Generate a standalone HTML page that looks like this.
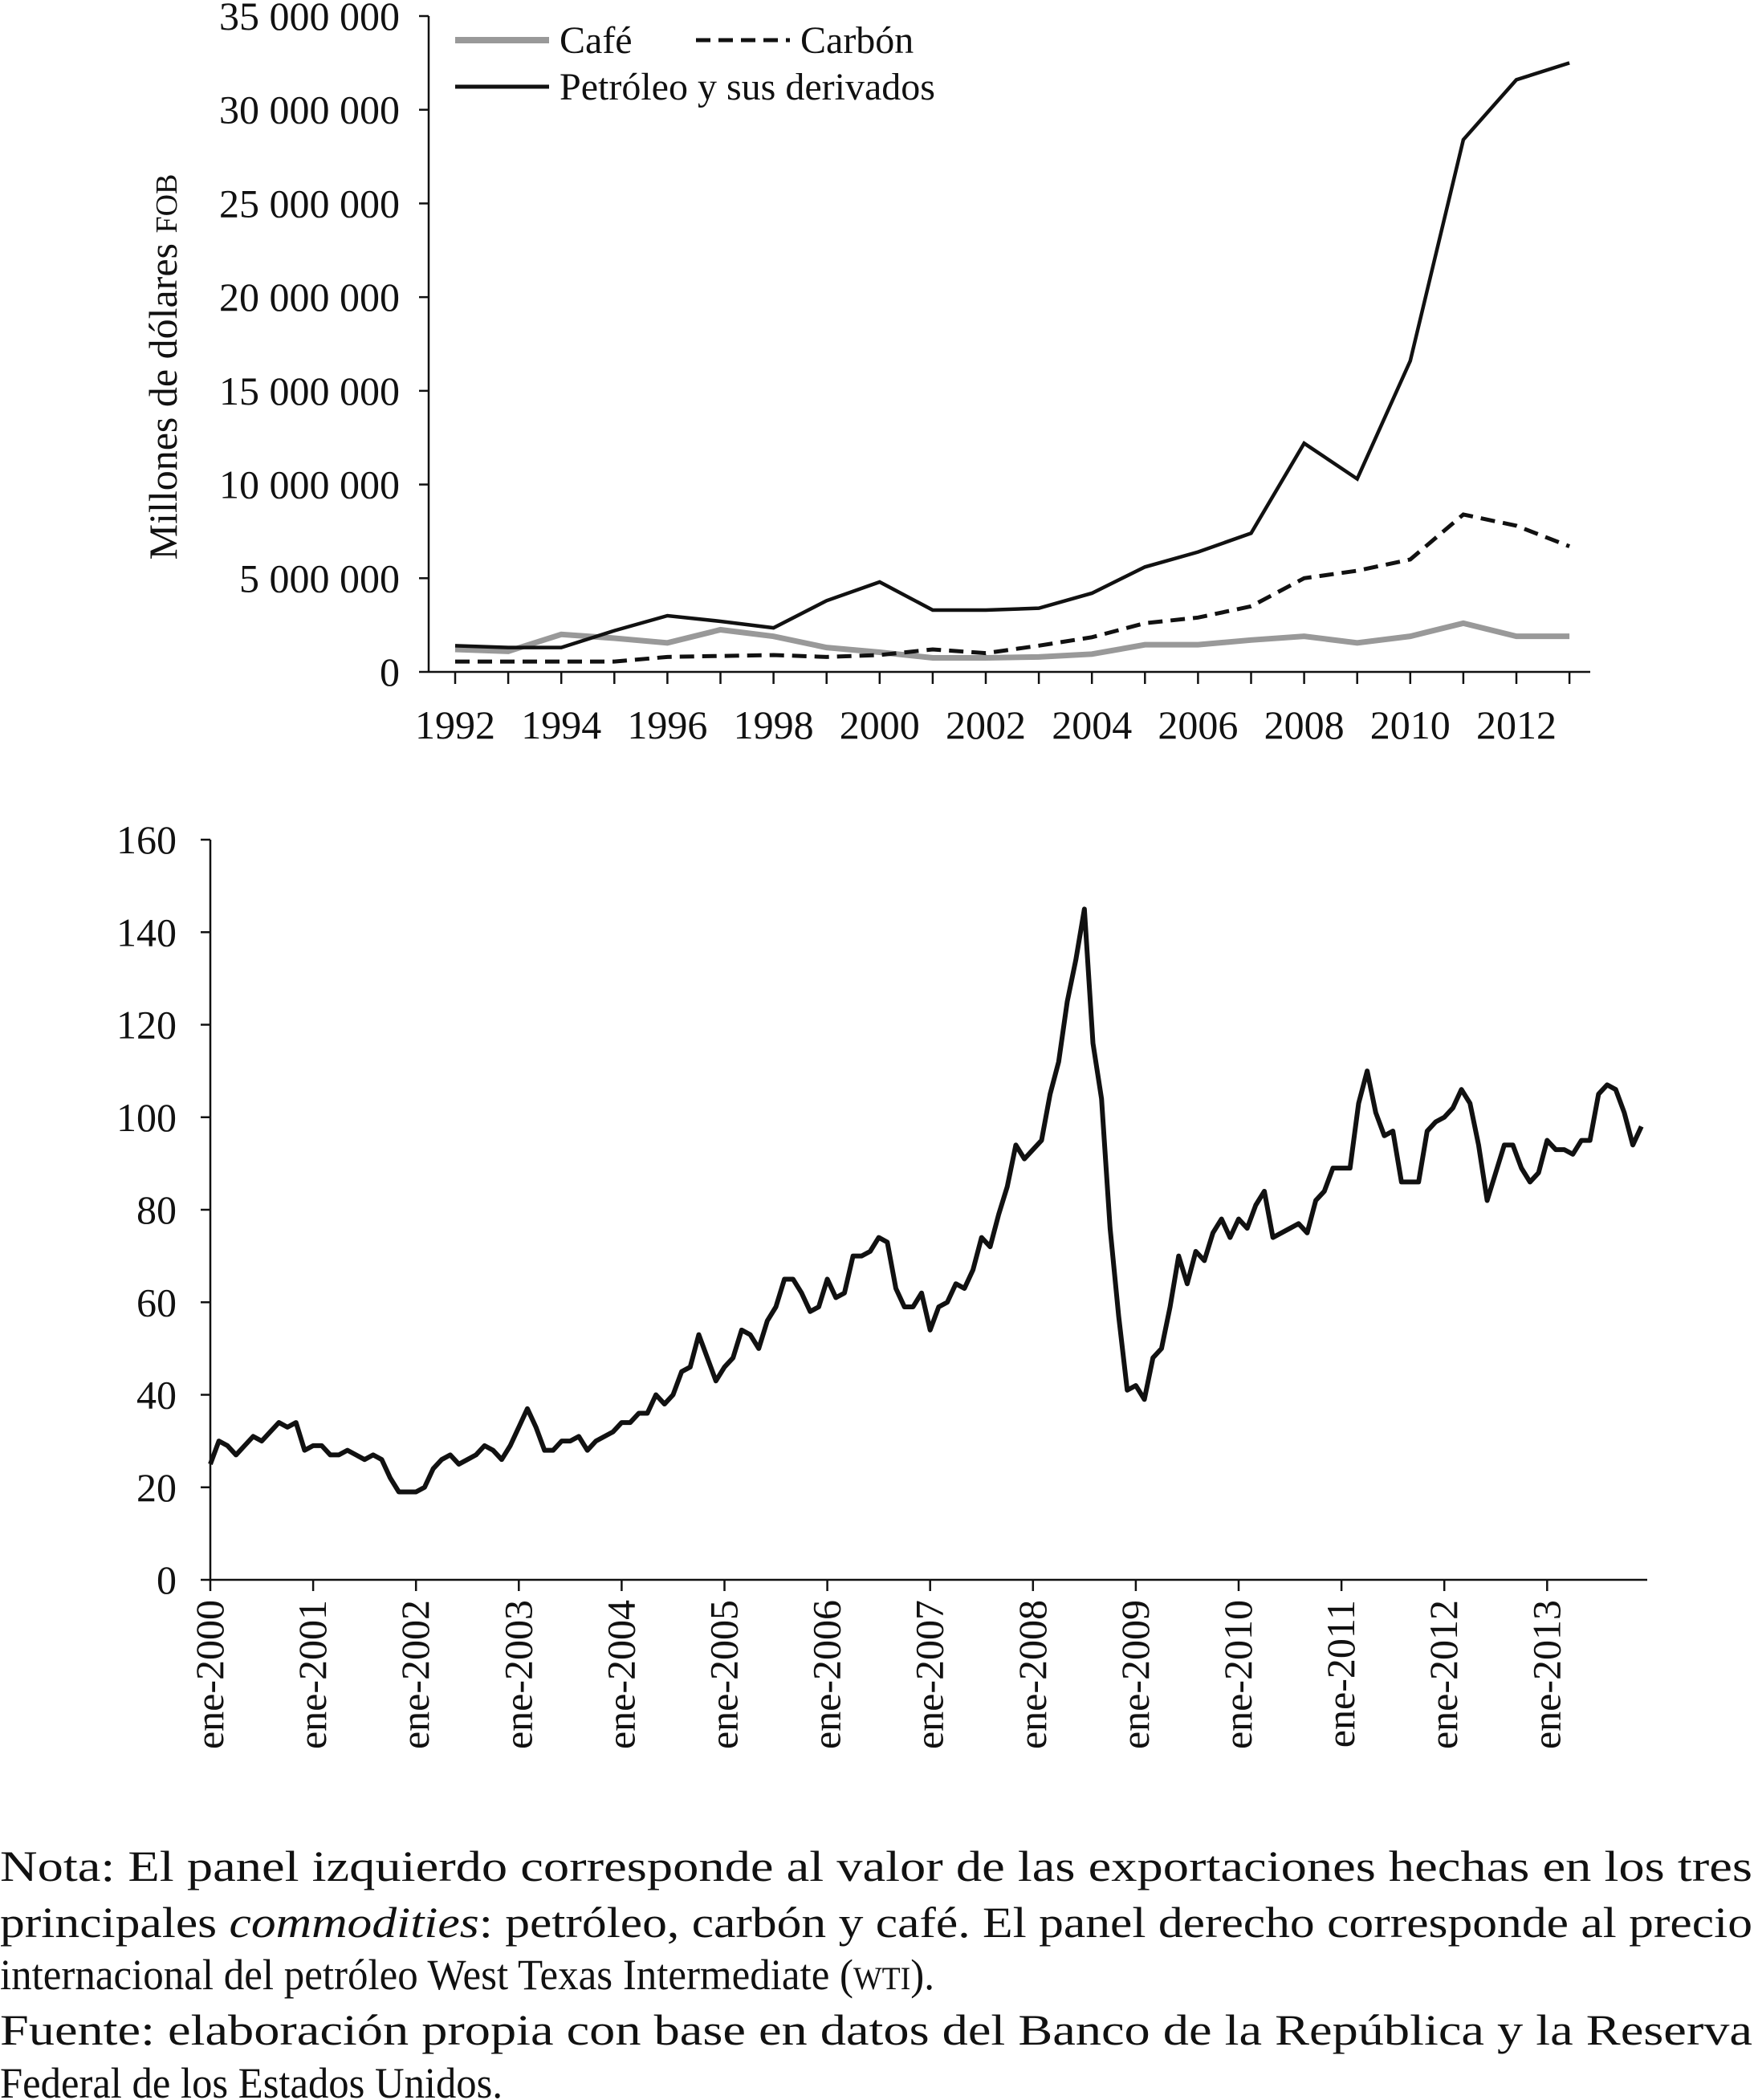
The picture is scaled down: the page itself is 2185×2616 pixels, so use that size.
<!DOCTYPE html>
<html><head><meta charset="utf-8">
<style>
html,body{margin:0;padding:0;background:#fff;}
svg{display:block;font-family:"Liberation Serif",serif;}
</style></head>
<body>
<svg id="s" width="2185" height="2616" viewBox="0 0 2185 2616" xmlns="http://www.w3.org/2000/svg">
<g id="top"></g>
<g id="bot"></g>
<g font-size="54" fill="#111">
<text x="0" y="2343" textLength="2183" lengthAdjust="spacingAndGlyphs">Nota: El panel izquierdo corresponde al valor de las exportaciones hechas en los tres</text>
<text x="0" y="2413" textLength="2183" lengthAdjust="spacingAndGlyphs">principales <tspan font-style="italic">commodities</tspan>: petróleo, carbón y café. El panel derecho corresponde al precio</text>
<text x="0" y="2478" textLength="1164" lengthAdjust="spacingAndGlyphs">internacional del petróleo West Texas Intermediate (<tspan font-size="40">WTI</tspan>).</text>
<text x="0" y="2547" textLength="2183" lengthAdjust="spacingAndGlyphs">Fuente: elaboración propia con base en datos del Banco de la República y la Reserva</text>
<text x="0" y="2613" textLength="626" lengthAdjust="spacingAndGlyphs">Federal de los Estados Unidos.</text>
</g>
</svg>
<script>
const years = [1992,1993,1994,1995,1996,1997,1998,1999,2000,2001,2002,2003,2004,2005,2006,2007,2008,2009,2010,2011,2012,2013];
const cafe = [1.2,1.1,2.0,1.8,1.55,2.25,1.9,1.3,1.05,0.75,0.75,0.8,0.95,1.45,1.45,1.7,1.9,1.55,1.9,2.6,1.9,1.9];
const carbon = [0.55,0.55,0.55,0.55,0.8,0.85,0.9,0.8,0.9,1.2,1.0,1.4,1.85,2.6,2.9,3.5,5.0,5.4,6.0,8.4,7.8,6.7];
const petroleo = [1.4,1.3,1.3,2.2,3.0,2.7,2.35,3.8,4.8,3.3,3.3,3.4,4.2,5.6,6.4,7.4,12.2,10.3,16.6,28.4,31.6,32.5];
const topTicks = ["0","5 000 000","10 000 000","15 000 000","20 000 000","25 000 000","30 000 000","35 000 000"];
const wtiYears = [2000,2001,2002,2003,2004,2005,2006,2007,2008,2009,2010,2011,2012,2013];
const wti = [
25,30,29,27,29,31,30,32,34,33,34,28,
29,29,27,27,28,27,26,27,26,22,19,19,
19,20,24,26,27,25,26,27,29,28,26,29,
33,37,33,28,28,30,30,31,28,30,31,32,
34,34,36,36,40,38,40,45,46,53,48,43,
46,48,54,53,50,56,59,65,65,62,58,59,
65,61,62,70,70,71,74,73,63,59,59,62,
54,59,60,64,63,67,74,72,79,85,94,91,
93,95,105,112,125,134,145,116,104,76,57,41,
42,39,48,50,59,70,64,71,69,75,78,74,
78,76,81,84,74,75,76,77,75,82,84,89,
89,89,103,110,101,96,97,86,86,86,97,99,
100,102,106,103,94,82,88,94,94,89,86,88,
95,93,93,92,95,95,105,107,106,101,94,98];
const wtiTicks = [0,20,40,60,80,100,120,140,160];

const NS="http://www.w3.org/2000/svg";
function mk(p,t,a){const e=document.createElementNS(NS,t);for(const k in a)e.setAttribute(k,a[k]);p.appendChild(e);return e;}

// TOP chart
const T=document.getElementById('top');
const tx=y=>567+(y-1992)*66.1;
const ty=v=>837-v/35*817;
let e=mk(T,'line',{x1:534,y1:20,x2:534,y2:837,stroke:'#111','stroke-width':2.5});


e=mk(T,'line',{x1:534,y1:837,x2:1981,y2:837,stroke:'#111','stroke-width':2.5});


topTicks.forEach((l,i)=>{const y=ty(i*5);
 mk(T,'line',{x1:522,y1:y,x2:534,y2:y,stroke:'#111','stroke-width':2.5});
 const t=mk(T,'text',{x:498,y:y+17,'text-anchor':'end','font-size':50,fill:'#111'});t.textContent=l;
 
 });
years.forEach((y,i)=>{const x=tx(y);
 mk(T,'line',{x1:x,y1:837,x2:x,y2:852,stroke:'#111','stroke-width':2.5});
 if(i%2===0){const t=mk(T,'text',{x:x,y:920,'text-anchor':'middle','font-size':50,fill:'#111'});t.textContent=y;
 
 }});
e=mk(T,'text',{x:0,y:0,transform:'translate(220,457) rotate(-90)','text-anchor':'middle','font-size':50,fill:'#111'});
e.innerHTML='Millones de dólares <tspan font-size="38">FOB</tspan>';


function pl(vals,attrs,name){const p=mk(T,'polyline',Object.assign({points:vals.map((v,i)=>tx(years[i])+','+ty(v)).join(' '),fill:'none'},attrs));
 
 }
pl(cafe,{stroke:'#999','stroke-width':7},'line-cafe');
pl(carbon,{stroke:'#111','stroke-width':5,'stroke-dasharray':'18 10'},'line-carbon');
pl(petroleo,{stroke:'#111','stroke-width':4.5},'line-petroleo');
// legend
function leg(x,y,attrs,label,name){const g=mk(T,'g',{});
 
 
 mk(g,'line',Object.assign({x1:x,y1:y,x2:x+117,y2:y},attrs));
 const t=mk(g,'text',{x:x+130,y:y+16,'font-size':48,fill:'#111'});t.textContent=label;}
leg(567,50,{stroke:'#999','stroke-width':8},'Café','legend-cafe');
leg(867,50,{stroke:'#111','stroke-width':5,'stroke-dasharray':'18 10'},'Carbón','legend-carbon');
leg(567,108,{stroke:'#111','stroke-width':5},'Petróleo y sus derivados','legend-petroleo');

// BOTTOM chart
const B=document.getElementById('bot');
const bx=m=>262+m*128.1/12;
const by=v=>1968-v/160*922;
e=mk(B,'line',{x1:262,y1:1046,x2:262,y2:1968,stroke:'#111','stroke-width':2.5});


e=mk(B,'line',{x1:262,y1:1968,x2:2052,y2:1968,stroke:'#111','stroke-width':2.5});


wtiTicks.forEach(v=>{const y=by(v);
 mk(B,'line',{x1:250,y1:y,x2:262,y2:y,stroke:'#111','stroke-width':2.5});
 const t=mk(B,'text',{x:220,y:y+17,'text-anchor':'end','font-size':50,fill:'#111'});t.textContent=v;
 
 });
wtiYears.forEach((yr,i)=>{const x=bx(i*12);
 mk(B,'line',{x1:x,y1:1968,x2:x,y2:1982,stroke:'#111','stroke-width':2.5});
 const t=mk(B,'text',{x:0,y:0,transform:`translate(${x+16},1993) rotate(-90)`,'text-anchor':'end','font-size':50,fill:'#111'});t.textContent='ene-'+yr;
 
 });
e=mk(B,'polyline',{points:wti.map((v,i)=>bx(i)+','+by(v)).join(' '),fill:'none',stroke:'#111','stroke-width':6,'stroke-linejoin':'round'});


</script>
</body></html>
